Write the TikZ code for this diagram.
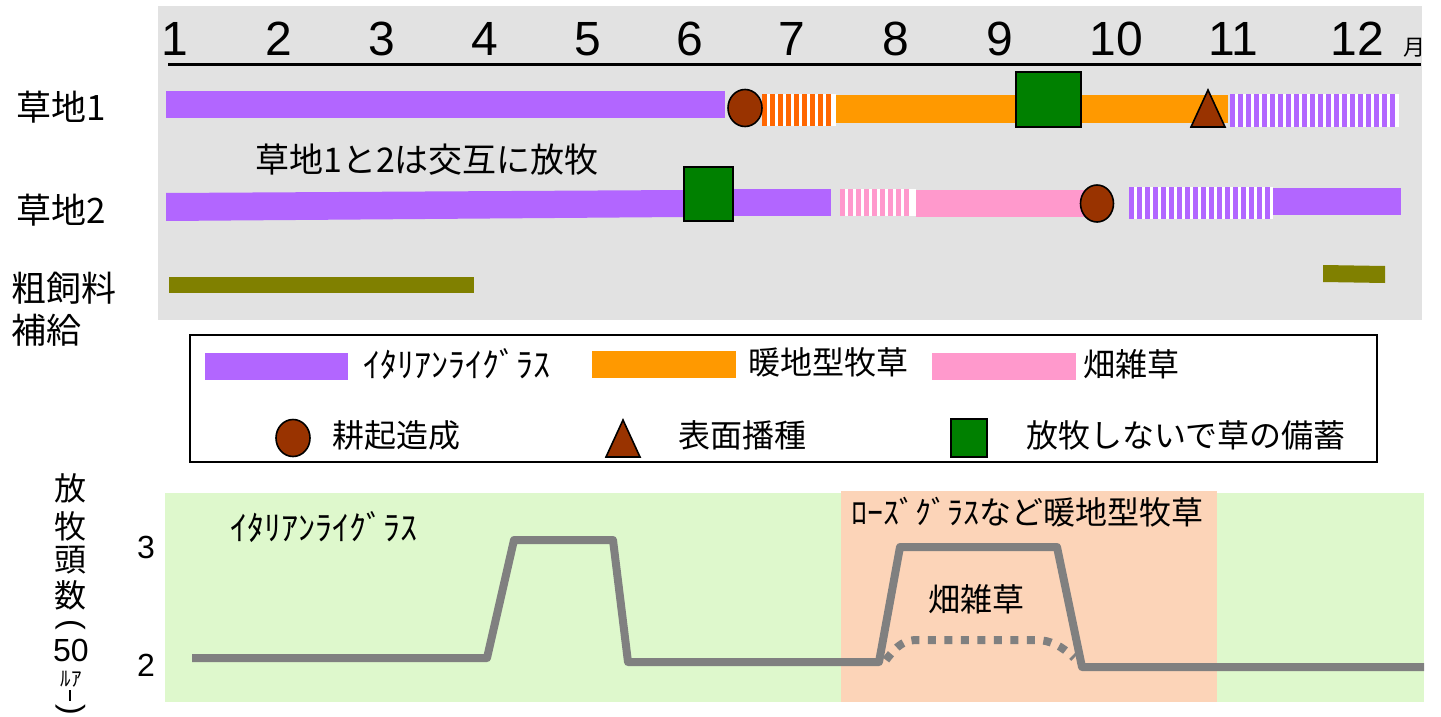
\documentclass[tikz,border=0pt]{standalone}
\usepackage{fontspec}
\setmainfont{Liberation Sans}
\newfontfamily\jp{Noto Sans CJK JP}
\usetikzlibrary{shapes.geometric}
\definecolor{panelgray}{RGB}{226,226,226}
\definecolor{lgreen}{RGB}{222,248,204}
\definecolor{lsalmon}{RGB}{252,212,184}
\definecolor{ipurple}{RGB}{178,102,255}
\definecolor{worange}{RGB}{255,153,0}
\definecolor{sorange}{RGB}{255,102,0}
\definecolor{wpink}{RGB}{255,153,204}
\definecolor{ibrown}{RGB}{153,51,0}
\definecolor{igreen}{RGB}{0,128,0}
\definecolor{iolive}{RGB}{128,128,0}
\definecolor{lgray}{RGB}{128,128,128}
\newcommand\stripebar[5]{%
  \fill[white] (#1,#3) rectangle (#2,#4);
  \pgfmathtruncatemacro\sbN{(#2-#1-5)/8}%
  \foreach \i in {0,...,\sbN}{\fill[#5] ({#1+8*\i},#3) rectangle ({#1+8*\i+5},#4);}%
}
\tikzset{
  month/.style={anchor=base,inner sep=0pt,font=\fontsize{48}{48}\selectfont},
  jtext/.style={inner sep=0pt,font=\jp\fontsize{32}{32}\selectfont},
  rowlab/.style={anchor=west,inner sep=0pt,font=\jp\fontsize{35}{35}\selectfont},
  circ/.style={ellipse,draw=black,line width=1.6pt,fill=ibrown,inner sep=0pt},
  sq/.style={rectangle,draw=black,line width=1.6pt,fill=igreen,inner sep=0pt},
  tri/.style={draw=black,line width=1.6pt,fill=ibrown,line join=miter},
  graphline/.style={draw=lgray,line width=8pt,line join=round},
  dotline/.style={draw=lgray,line width=8pt,dash pattern=on 8pt off 8.5pt},
  paren/.style={inner sep=0pt,rotate=-90,font=\fontsize{32}{32}\selectfont},
}
\begin{document}
\begin{tikzpicture}[x=1pt,y=-1pt]
\useasboundingbox (0,0) rectangle (1441,717);
% ---------- top panel ----------
\fill[panelgray] (158,6) rectangle (1422,320);
\foreach \m/\x in {1/175,2/279,3/382,4/485,5/588,6/690,7/792,8/896,9/1000,10/1116,11/1233,12/1357}
  \node[month] (m\m) at (\x,56) {\m};
\node[anchor=base,inner sep=0pt,font=\jp\fontsize{22}{22}\selectfont] (mon) at (1414,56) {月};
\draw[line width=3pt] (168,65) -- (1421,65);
% row labels
\node[rowlab] (r1) at (16,107) {草地1};
\node[rowlab] (r2) at (16,210) {草地2};
\node[rowlab] (r3) at (11,288) {粗飼料};
\node[rowlab] (r3b) at (11,330) {補給};
\node[inner sep=0pt,font=\jp\fontsize{34}{34}\selectfont] (alt) at (427,160) {草地1と2は交互に放牧};
% row 1
\fill[ipurple] (166,91) rectangle (725,118);
\stripebar{762}{836}{94}{126}{sorange}
\fill[worange] (836,95) rectangle (1228,123);
\stripebar{1230}{1399}{94}{127}{ipurple}
\node[circ,minimum width=34pt,minimum height=37pt] (c1) at (745,108) {};
\node[sq,minimum width=65pt,minimum height=55pt] (s1) at (1048.5,99.5) {};
\draw[tri] (1208,90) -- (1225,127) -- (1191,127) -- cycle;
% row 2
\fill[ipurple] (166,193) -- (684,190) -- (684,217) -- (166,221) -- cycle;
\fill[ipurple] (733,189) rectangle (831,216);
\stripebar{840}{916}{189}{216}{wpink}
\fill[wpink] (916,190) rectangle (1090,217);
\stripebar{1129}{1273}{187}{219}{ipurple}
\fill[ipurple] (1273,188) rectangle (1401,215);
\node[sq,minimum width=49pt,minimum height=54pt] (s2) at (708.5,194) {};
\node[circ,minimum width=33pt,minimum height=37pt] (c2) at (1097,203.5) {};
% row 3
\fill[iolive] (169,277) rectangle (474,293);
\fill[iolive] (1323,265) -- (1385,266) -- (1385,283) -- (1323,282) -- cycle;
% ---------- legend ----------
\draw[line width=1.5pt] (190,335) rectangle (1377,462);
\fill[ipurple] (205,353) rectangle (348,380);
\node[jtext,anchor=west,font=\jp\fontsize{34}{34}\selectfont] (l1) at (363,364) {ｲﾀﾘｱﾝﾗｲｸﾞﾗｽ};
\fill[worange] (592,351) rectangle (736,378);
\node[jtext,anchor=west] (l2) at (748,362) {暖地型牧草};
\fill[wpink] (932,353) rectangle (1076,380);
\node[jtext,anchor=west] (l3) at (1083,364) {畑雑草};
\node[circ,minimum width=34pt,minimum height=37pt] (lc) at (293,438) {};
\node[jtext,anchor=west] (l4) at (332,435) {耕起造成};
\draw[tri] (623,420) -- (640,457) -- (606,457) -- cycle;
\node[jtext,anchor=west] (l5) at (678,435) {表面播種};
\node[sq,minimum width=36pt,minimum height=38pt] (ls) at (969,438) {};
\node[jtext,anchor=west] (l6) at (1026,435) {放牧しないで草の備蓄};
% ---------- lower panel ----------
\fill[lgreen] (165,493) rectangle (1424,702);
\fill[lsalmon] (841,491) rectangle (1217,702);
\node[jtext,anchor=west,font=\jp\fontsize{34}{34}\selectfont] (g1) at (230,527) {ｲﾀﾘｱﾝﾗｲｸﾞﾗｽ};
\node[jtext,anchor=west] (g2) at (851,512) {ﾛｰｽﾞｸﾞﾗｽなど暖地型牧草};
\node[jtext] (g3) at (976,599) {畑雑草};
\draw[graphline] (192,658) -- (487,658) -- (514,540) -- (613,540) -- (628,662) -- (879,662)
  -- (900,547) -- (1057,547) -- (1082,667) -- (1424,667);
\draw[dotline] (886,660) .. controls (898,644) and (905,640) .. (918,640) -- (1036,640)
  .. controls (1050,640) and (1062,646) .. (1074,658);
% y axis
\node[inner sep=0pt,font=\fontsize{32}{32}\selectfont] (t3) at (146,547) {3};
\node[inner sep=0pt,font=\fontsize{32}{32}\selectfont] (t2) at (146,665) {2};
\node[jtext] (y1) at (70,488) {放};
\node[jtext] (y2) at (70,526) {牧};
\node[jtext] (y3) at (70,560) {頭};
\node[jtext] (y4) at (70,595) {数};
\node[paren] (y5) at (71,625) {(};
\node[anchor=base,inner sep=0pt,text height=23pt,text depth=0pt,font=\fontsize{32}{32}\selectfont] (y6) at (71,661) {50};
\node[anchor=base,inner sep=0pt,text height=15pt,text depth=1pt,font=\jp\fontsize{21}{21}\selectfont] (y7) at (71,686) {ﾙｱ};
\draw[line width=1.4pt] (70,690) -- (70,701);
\node[paren] (y8) at (71,710) {)};
\end{tikzpicture}
\end{document}
